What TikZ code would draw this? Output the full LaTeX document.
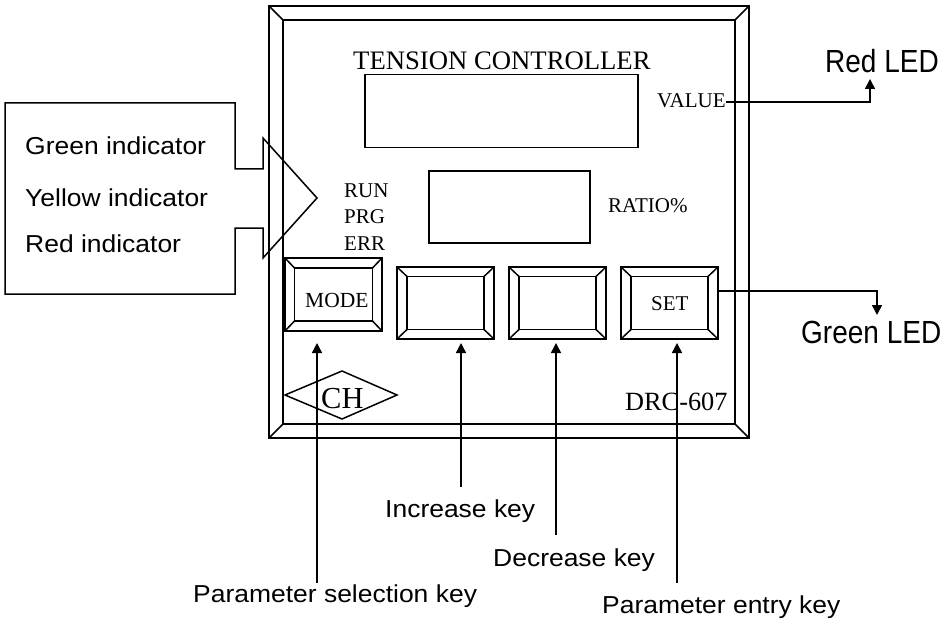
\documentclass[tikz,border=0pt]{standalone}
\usepackage{fontspec}
\setmainfont{Liberation Serif}
\newfontfamily\arialf{Liberation Sans}
\usetikzlibrary{arrows.meta}
\newcommand{\wide}[1]{\scalebox{1.08}[1]{#1}}
\tikzset{
  x=1pt,y=-1pt,
  ln/.style={draw=black,line width=1.5pt},
  arr/.style={ln,-{Triangle[length=10pt,width=10pt]}},
  sf/.style={anchor=base west,inner sep=0pt,font=\arialf\fontsize{24.5}{24.5}\selectfont},
  rm/.style={anchor=base west,inner sep=0pt,font=\fontsize{21}{21}\selectfont},
  big/.style={anchor=base west,inner sep=0pt,font=\arialf\fontsize{32}{32}\selectfont},
}
\newcommand{\bevelbox}[7]{% name, cx, cy, outer w, outer h, inner w, inner h
  \node[ln,inner sep=0,outer sep=0,minimum width=#4pt,minimum height=#5pt] (#1) at (#2,#3) {};
  \node[ln,inner sep=0,outer sep=0,minimum width=#6pt,minimum height=#7pt] (#1i) at (#2,#3) {};
  \draw[ln] (#1.north west)--(#1i.north west) (#1.north east)--(#1i.north east)
            (#1.south west)--(#1i.south west) (#1.south east)--(#1i.south east);
}
\begin{document}
\begin{tikzpicture}
\useasboundingbox (0,0) rectangle (949,620);
% frame
\bevelbox{frame}{509}{222}{480}{432}{452}{404}
% displays
\node[ln,inner sep=0,outer sep=0,minimum width=273pt,minimum height=73pt] (disp1) at (501.5,111) {};
\node[ln,inner sep=0,outer sep=0,minimum width=161pt,minimum height=72pt] (disp2) at (509.5,207) {};
% buttons
\bevelbox{bmode}{333.5}{294.5}{97}{73}{78}{53}
\bevelbox{binc}{445.5}{303}{97}{72}{77}{53}
\bevelbox{bdec}{557.5}{303}{97}{72}{77}{53}
\bevelbox{bset}{669.5}{303}{97}{72}{77}{53}
% callout
\draw[ln,line join=miter] (5,103)--(235,103)--(235,169)--(263,169)--(263,138)--(317,198)--(263,258)--(263,228)--(235,228)--(235,294)--(5,294)--cycle;
% logo
\draw[ln] (285,395)--(342,371)--(397,395)--(342,419)--cycle;
% texts
\node[rm,font=\fontsize{26.7}{26.7}\selectfont] (title) at (353,70) {TENSION CONTROLLER};
\node[rm] (value) at (657,108) {VALUE};
\node[rm] (ratio) at (608,212) {RATIO\%};
\node[rm] (run) at (344,198) {RUN};
\node[rm] (prg) at (344,224) {PRG};
\node[rm] (err) at (344,251) {ERR};
\node[rm,font=\fontsize{21.5}{21.5}\selectfont] (mode) at (305,307) {MODE};
\node[rm] (set) at (651,310) {SET};
\node[rm,font=\fontsize{30.5}{30.5}\selectfont] (ch) at (321,408) {CH};
\node[rm,font=\fontsize{26.3}{26.3}\selectfont] (drc) at (625,410) {DRC-607};
\node[sf] (green) at (25,155) {\wide{Green indicator}};
\node[sf] (yellow) at (25,207) {\wide{Yellow indicator}};
\node[sf] (red) at (25,252) {\wide{Red indicator}};
\node[sf] (linc) at (385,517) {\wide{Increase key}};
\node[sf] (ldec) at (493,566) {\wide{Decrease key}};
\node[sf] (lsel) at (193,602) {\wide{Parameter selection key}};
\node[sf] (lent) at (602,613) {\wide{Parameter entry key}};
\node[big] (rled) at (825,73) {\scalebox{.875}[1]{Red LED}};
\node[big] (gled) at (801,343) {\scalebox{.875}[1]{Green LED}};
% connector ends
\coordinate (ts) at (317,343); \coordinate (fs) at (317,583);
\coordinate (ti) at (461,343); \coordinate (fi) at (461,487);
\coordinate (td) at (556,343); \coordinate (fd) at (556,535);
\coordinate (te) at (677,343); \coordinate (fe) at (677,583);
\coordinate (tr) at (870,79);
\coordinate (tg) at (877,315);
\draw[arr] (fs)--(ts);
\draw[arr] (fi)--(ti);
\draw[arr] (fd)--(td);
\draw[arr] (fe)--(te);
\draw[arr] (value.base east |- 0,102)--(870,102)--(tr);
\draw[arr] (bset.east |- 0,291)--(877,291)--(tg);
\end{tikzpicture}
\end{document}
